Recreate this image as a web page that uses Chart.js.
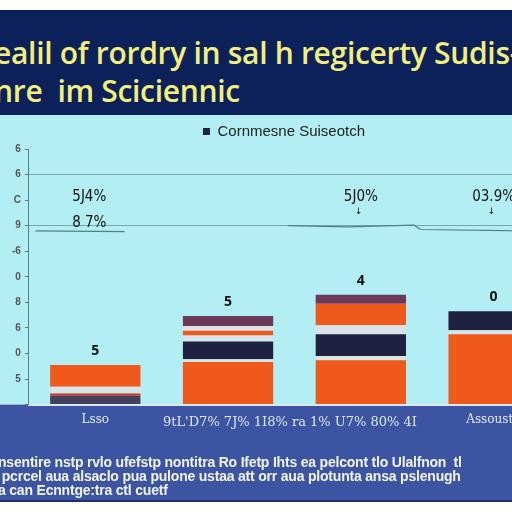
<!DOCTYPE html>
<html>
<head>
<meta charset="utf-8">
<script src="https://cdn.jsdelivr.net/npm/chart.js@4.4.1/dist/chart.umd.min.js"></script>
<style>
html, body { margin: 0; padding: 0; width: 512px; height: 512px; overflow: hidden; background: #fff; position: relative; font-family: "Open Sans", sans-serif; }
#head { position: absolute; left: 0; top: 10px; width: 512px; height: 105px; background: #0c2159; overflow: hidden; }
#head div { position: absolute; left: -6px; white-space: nowrap; color: #f3ef7c; font-weight: 600; font-size: 30px; letter-spacing: -0.3px; }
#box { position: absolute; left: 0; top: 115px; width: 560px; height: 385px; border-bottom: 2px solid #22306a; }
#xmid { position: absolute; left: 150px; top: 414px; width: 280px; text-align: center; color: #dfe6f5; font-family: "DejaVu Serif", serif; font-size: 13px; white-space: nowrap; }
#foot { position: absolute; left: -2px; top: 455px; width: 520px; color: #f2f4fb; font-family: "Liberation Sans", sans-serif; font-weight: bold; font-size: 14px; line-height: 14px; white-space: nowrap; letter-spacing: -0.2px; }
</style>
</head>
<body>
<div id="head">
  <div style="top:22px">ealil of rordry in sal h regicerty Sudis-</div>
  <div style="top:60px">nre&nbsp; im Sciciennic</div>
</div>
<div id="box"><canvas id="chart"></canvas></div>
<div id="xmid">9tL'D7% 7J% 1I8% ra 1% U7% 80% 4I</div>
<div id="foot">
  <div>nsentire nstp rvlo ufefstp nontitra Ro Ifetp Ihts ea pelcont tlo Ulalfnon&nbsp; tl</div>
  <div>&nbsp;pcrcel aua alsaclo pua pulone ustaa att orr aua plotunta ansa pslenugh</div>
  <div>a can Ecnntge:tra ctl cuetf</div>
</div>
<script>
// categories and tick labels
const categories = ['Lsso', '', '', 'Assoustu'];
const yTickLabels = ['', '5', '0', '6', '8', '0', '-6', '9', 'C', '6', '6'];

// stacked segments, bottom to top
const darkBase = [0.35, 0, 0, 0];
const redThin = [0.08, 0, 0, 0];
const orangeBase = [0, 1.67, 1.74, 2.75];
const lightLow = [0.27, 0.1, 0.16, 0.16];
const navyMid = [0, 0.70, 0.85, 0.74];
const lightMid = [0, 0.23, 0.35, 0];
const orangeTop = [0.85, 0.19, 0.85, 0];
const lightTop = [0, 0.19, 0, 0];
const mauveTop = [0, 0.39, 0.35, 0];
const barTopLabels = ['5', '5', '4', '0'];

// thin trend line over the bars
const trendX = [-0.45, 0.22, 0.3, 1.45, 1.9, 2.4, 2.45, 3.5];
const trendY = [6.8, 6.77, null, 7.0, 6.95, 7.02, 6.85, 6.78];
const pctTop = ['5J4%', '', '5J0%', '03.9%'];
const pctLow = ['8 7%', '', '', ''];

const seg = (label, data, color) => ({ type: 'bar', label: label, data: data, backgroundColor: color, stack: 's', grouped: false, borderWidth: 0 });

const bgPlugin = {
    id: 'bg',
    beforeDraw(chart) {
        const c = chart.ctx, a = chart.chartArea;
        c.save();
        c.fillStyle = '#b2eef3';
        c.fillRect(0, 0, chart.width, a.bottom);
        c.fillStyle = '#3c54a2';
        c.fillRect(0, a.bottom, chart.width, chart.height - a.bottom);
        c.restore();
    }
};

const textPlugin = {
    id: 'texts',
    afterDatasetsDraw(chart) {
        const c = chart.ctx;
        const x = chart.scales.x, y = chart.scales.y;
        const last = chart.getDatasetMeta(8);
        c.save();
        c.fillStyle = '#111';
        c.textAlign = 'center';
        c.font = 'bold 14px "Open Sans", sans-serif';
        barTopLabels.forEach((t, i) => {
            c.fillText(t, last.data[i].x, last.data[i].y - 14);
        });
        c.font = '15px "DejaVu Sans Condensed", sans-serif';
        pctTop.forEach((t, i) => {
            if (!t) return;
            c.fillText(t, x.getPixelForValue(i) - (i === 0 ? 6 : 0), y.getPixelForValue(7) - 29);
            if (i > 0) {
                c.font = '9px "DejaVu Sans", sans-serif';
                c.fillText('\u2193', x.getPixelForValue(i) - 2, y.getPixelForValue(7) - 14);
                c.font = '15px "DejaVu Sans Condensed", sans-serif';
            }
        });
        pctLow.forEach((t, i) => {
            if (!t) return;
            c.fillText(t, x.getPixelForValue(i) - 6, y.getPixelForValue(7) - 3);
        });
        c.restore();
    }
};

new Chart(document.getElementById('chart'), {
    data: {
        labels: categories,
        datasets: [
            seg('dark', darkBase, '#45405e'),
            seg('red', redThin, '#c23a24'),
            seg('orange', orangeBase, '#ef5a1c'),
            seg('light', lightLow, '#d9e4e8'),
            seg('Cornmesne Suiseotch', navyMid, '#1e2240'),
            seg('light2', lightMid, '#d9e4e8'),
            seg('orange2', orangeTop, '#ef5a1c'),
            seg('light3', lightTop, '#d9e4e8'),
            seg('mauve', mauveTop, '#6c3a58'),
            {
                type: 'line',
                label: 'trend',
                xAxisID: 'x2',
                data: trendX.map((v, i) => ({ x: v, y: trendY[i] })),
                borderColor: '#4f7f8c',
                borderWidth: 1.2,
                pointRadius: 0,
                spanGaps: false
            }
        ]
    },
    options: {
        responsive: true,
        maintainAspectRatio: false,
        animation: false,
        layout: { padding: { left: 8, bottom: 73, top: 0 } },
        datasets: { bar: { categoryPercentage: 1, barPercentage: 0.68 } },
        plugins: {
            legend: {
                display: true,
                position: 'top',
                labels: {
                    filter: item => item.text === 'Cornmesne Suiseotch',
                    boxWidth: 7,
                    boxHeight: 7,
                    padding: 9,
                    color: '#222',
                    font: { size: 15, family: '"Liberation Sans", sans-serif' }
                }
            },
            tooltip: { enabled: false }
        },
        scales: {
            x: {
                type: 'category',
                offset: true,
                grid: { display: false },
                border: { color: '#dce8ef', width: 2 },
                ticks: { color: '#e4eaf7', font: { size: 12, family: '"DejaVu Serif", serif' }, padding: 0 }
            },
            x2: {
                type: 'linear',
                display: false,
                min: -0.5,
                max: 3.5
            },
            y: {
                stacked: true,
                min: 0,
                max: 10,
                border: { color: '#5a7d8c', width: 1 },
                grid: {
                    color: ctx => (ctx.tick && (ctx.tick.value === 9 || ctx.tick.value === 7)) ? 'rgba(70,110,120,0.55)' : 'rgba(0,0,0,0)',
                    drawTicks: true,
                    tickColor: '#5a7d8c',
                    tickLength: 4
                },
                ticks: {
                    stepSize: 1,
                    color: '#555',
                    font: { size: 10, weight: 'bold' },
                    padding: 4,
                    callback: (v, i) => yTickLabels[i]
                }
            }
        }
    },
    plugins: [bgPlugin, textPlugin]
});
</script>
</body>
</html>
